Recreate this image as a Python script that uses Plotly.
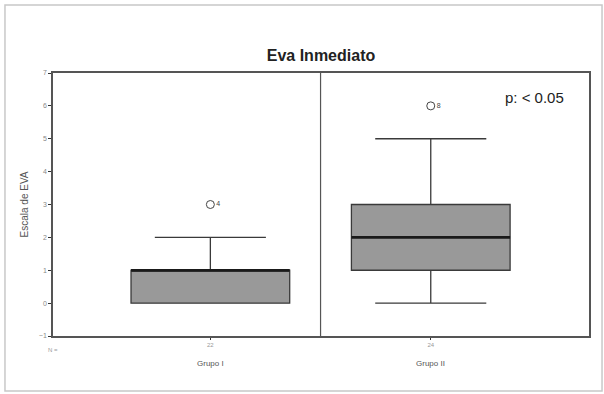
import plotly.graph_objects as go

# Escala EVA immediately after the procedure, per group
groups = ["Grupo I", "Grupo II"]
counts = ["22", "24"]
lower_fence = [0, 0]
q1 = [0, 1]
median = [1, 2]
q3 = [1, 3]
upper_fence = [2, 5]
outlier_values = [3, 6]
outlier_cases = ["4", "8"]

ypos = list(range(len(groups)))
box_w = 0.72

fig = go.Figure()

for i, g in enumerate(groups):
    fig.add_trace(go.Box(
        x=[ypos[i]], q1=[q1[i]], median=[median[i]], q3=[q3[i]],
        lowerfence=[lower_fence[i]], upperfence=[upper_fence[i]],
        width=box_w, whiskerwidth=0.7,
        fillcolor="#999999", line=dict(color="#3a3a3a", width=1.3),
        boxpoints=False, hoverinfo="skip", showlegend=False, name=g,
    ))
    # thicker median bar
    fig.add_trace(go.Scatter(
        x=[ypos[i] - box_w / 2, ypos[i] + box_w / 2], y=[median[i], median[i]],
        mode="lines", line=dict(color="#1a1a1a", width=2.6),
        hoverinfo="skip", showlegend=False,
    ))

# outliers with case numbers
fig.add_trace(go.Scatter(
    x=ypos, y=outlier_values, mode="markers+text",
    marker=dict(symbol="circle-open", size=8, color="#444444", line=dict(width=1)),
    text=outlier_cases, textposition="middle right",
    textfont=dict(family="Liberation Sans, Arial", size=7, color="#444444"),
    hoverinfo="skip", showlegend=False,
))

# group separator
fig.add_shape(type="line", xref="x", yref="paper", x0=0.5, x1=0.5, y0=0, y1=1,
              line=dict(color="#555555", width=1.2))

# outer frame
fig.add_shape(type="rect", xref="paper", yref="paper",
              x0=-0.0896, x1=1.0243, y0=-0.209, y1=1.2586,
              line=dict(color="#c8c8c8", width=1.5), layer="below")

# group names below axis
for i, g in enumerate(groups):
    fig.add_annotation(x=ypos[i], y=-0.08, xref="x", yref="paper", text=g,
                       showarrow=False, yanchor="top",
                       font=dict(family="Liberation Sans, Arial", size=8, color="#555555"))
fig.add_annotation(x=0, y=-0.035, xref="paper", yref="paper", text="N =",
                   showarrow=False, yanchor="top", xanchor="center",
                   font=dict(family="Liberation Sans, Arial", size=6, color="#999999"))

fig.add_annotation(x=0.899, y=0.905, xref="paper", yref="paper", text="p: < 0.05",
                   showarrow=False, xanchor="center", yanchor="middle",
                   font=dict(family="Liberation Sans, Arial", size=15, color="#222222"))

fig.update_layout(
    width=604, height=394,
    margin=dict(l=53, r=15, t=73, b=58),
    paper_bgcolor="white", plot_bgcolor="white",
    title=dict(text="<b>Eva Inmediato</b>", x=0.5, xref="paper", y=0.86, yanchor="middle",
               font=dict(family="Liberation Sans, Arial", size=16, color="#222222")),
    xaxis=dict(range=[-0.714, 1.718], tickvals=ypos, ticktext=counts,
               showgrid=False, zeroline=False, showline=True, mirror=True,
               linecolor="#555555", linewidth=1.5, ticks="outside", ticklen=2,
               tickcolor="#333333",
               tickfont=dict(family="Liberation Sans, Arial", size=6, color="#999999")),
    yaxis=dict(range=[-1, 7], dtick=1, showgrid=False, zeroline=False,
               showline=True, mirror=True, linecolor="#555555", linewidth=1.5,
               ticks="outside", ticklen=3, tickcolor="#333333",
               tickfont=dict(family="Liberation Sans, Arial", size=7, color="#888888"),
               title=dict(text="Escala de EVA", standoff=8,
                          font=dict(family="Liberation Sans, Arial", size=10, color="#555555"))),
)

fig.write_html("out.html")
